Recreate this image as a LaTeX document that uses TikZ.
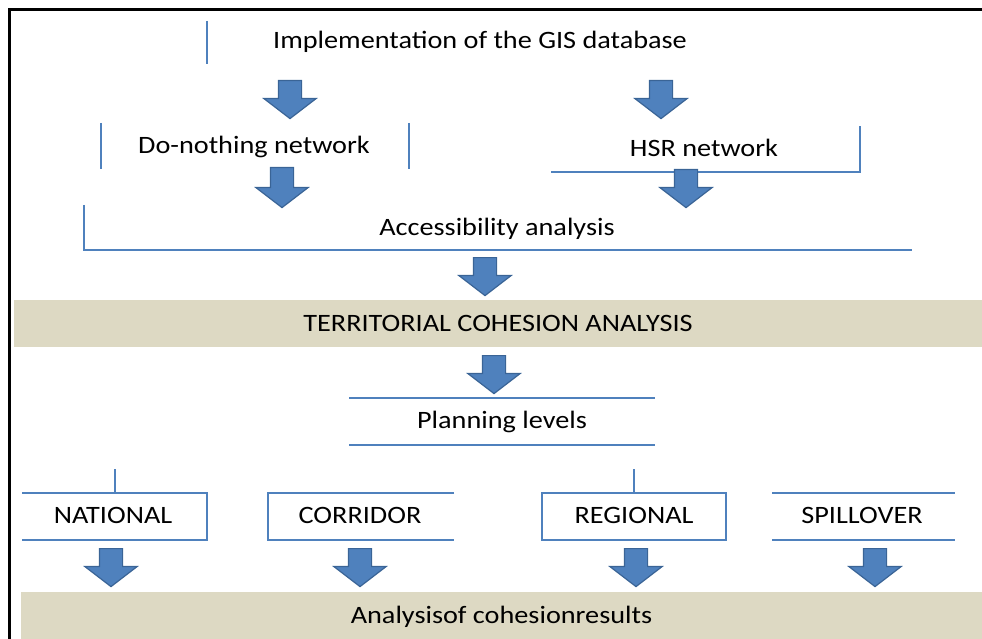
\documentclass[tikz,border=0pt]{standalone}
\usepackage{fontspec}
\setmainfont{Carlito}[FakeStretch=1.13]
\usepackage{tikz}
\usetikzlibrary{shapes.arrows,positioning}

\definecolor{stepblue}{HTML}{4F81BD}
\definecolor{stepedge}{HTML}{3A6496}
\definecolor{bandtan}{HTML}{DDD9C3}

\begin{document}
\begin{tikzpicture}[
    x = 1pt, y = -1pt, % pixel units, y going down
    font = \fontsize{25}{30}\selectfont,
    stage/.style = {inner sep = 0pt, anchor = base}, % plain text steps
    bracket/.style = {draw = stepblue, line width = 2pt},
    band/.style = {fill = bandtan, inner sep = 0pt, minimum height = 47pt,
        text height = 16pt, text depth = 0pt}
    ]

    \tikzset{fat arrow/.style = {
    single arrow,
    rotate = -90,
    anchor = tail,
    draw = stepedge,
    fill = stepblue,
    line width = 1.2pt,
    inner xsep = 0pt,
    inner ysep = 11pt,
    minimum height = 38pt,
    minimum width = 0pt,
    single arrow head extend = 14.5pt,
    single arrow tip angle = 105
    }}

    \useasboundingbox (0,0) rectangle (982,639);

    % frame
    \draw[line width = 3pt] (9.5,639) -- (9.5,9.5) -- (982,9.5);

    % first part
    \node[stage] (gis) at (480,49) {Implementation of the GIS database};
    \node[stage] (donothing) at (254,154) {Do-nothing network};
    \node[stage] (hsr) at (704,157) {HSR network};
    \node[stage] (access) at (497,235) {Accessibility analysis};

    \draw[bracket] (207,21) -- (207,64);
    \draw[bracket] (101,123) -- (101,169);
    \draw[bracket] (409,123) -- (409,169);
    \draw[bracket] (551,172) -- (860,172) -- (860,126);
    \draw[bracket] (84,205) -- (84,250) -- (912,250);

    \node[fat arrow] (a1) at (290,80) {};
    \node[fat arrow] (a2) at (661,80) {};
    \node[fat arrow, minimum height = 40pt] (a3) at (282,167) {};
    \node[fat arrow] (a4) at (686,169) {};
    \node[fat arrow] (a5) at (485,257) {};

    % cohesion
    \node[band, minimum width = 968pt] (cohesion) at (498,323.5)
        {TERRITORIAL COHESION ANALYSIS};
    \node[fat arrow] (a6) at (494,355) {};

    % planning levels
    \node[stage] (planning) at (502,428) {Planning levels};
    \draw[bracket] (349,398) -- (655,398);
    \draw[bracket] (349,445) -- (655,445);

    \node[stage] (national) at (113,523) {NATIONAL};
    \node[stage] (corridor) at (360,523) {CORRIDOR};
    \node[stage] (regional) at (634,523) {REGIONAL};
    \node[stage] (spillover) at (862,523) {SPILLOVER};

    \draw[bracket] (115,469) -- (115,493);
    \draw[bracket] (22,493) -- (207,493) -- (207,540) -- (22,540);
    \draw[bracket] (454,493) -- (268,493) -- (268,540) -- (454,540);
    \draw[bracket] (634,469) -- (634,493);
    \draw[bracket] (542,493) rectangle (726,540);
    \draw[bracket] (772,493) -- (955,493);
    \draw[bracket] (772,540) -- (955,540);

    \node[fat arrow] (a7) at (111,548) {};
    \node[fat arrow] (a8) at (360,548) {};
    \node[fat arrow] (a9) at (636,548) {};
    \node[fat arrow] (a10) at (875,548) {};

    % results
    \node[band, minimum width = 961pt] (results) at (501.5,615.5)
        {Analysisof cohesionresults};
\end{tikzpicture}
\end{document}
